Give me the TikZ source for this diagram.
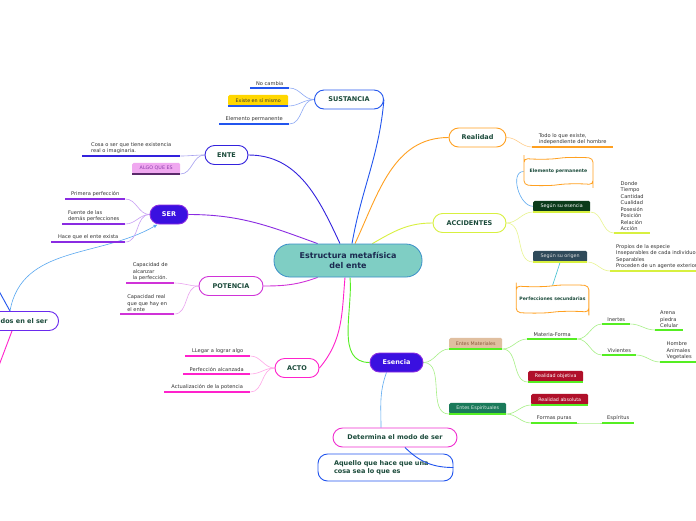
\documentclass[tikz,border=0pt]{standalone}
\usepackage{fontspec}
\setmainfont{DejaVu Sans}
\usepackage{xcolor}
\usepackage{tikz}
\usetikzlibrary{arrows.meta,positioning,calc,shapes.symbols,backgrounds}
\definecolor{cenfill}{HTML}{7FCEC4}
\definecolor{cenline}{HTML}{3A8FC8}
\definecolor{centxt}{HTML}{1B2A50}
\definecolor{brtxt}{HTML}{1A4A3A}
\definecolor{leaftxt}{HTML}{333333}
\definecolor{suscol}{HTML}{2255EE}
\definecolor{suslite}{HTML}{8FAAF5}
\definecolor{entecol}{HTML}{3322DD}
\definecolor{entelite}{HTML}{A6A0F0}
\definecolor{sercol}{HTML}{8A2BE2}
\definecolor{serlite}{HTML}{C9A0F5}
\definecolor{serfill}{HTML}{3A10E0}
\definecolor{potcol}{HTML}{D033D8}
\definecolor{potlite}{HTML}{EAA4F0}
\definecolor{actcol}{HTML}{FF22CC}
\definecolor{actlite}{HTML}{FFA8E8}
\definecolor{realcol}{HTML}{FFA020}
\definecolor{reallite}{HTML}{FFCC88}
\definecolor{acccol}{HTML}{D8F040}
\definecolor{acclite}{HTML}{E8F590}
\definecolor{esccol}{HTML}{55EE22}
\definecolor{esclite}{HTML}{A8F088}
\definecolor{relblue}{HTML}{5AA8F0}
\definecolor{detcol}{HTML}{F02ED0}
\definecolor{dosline}{HTML}{6A2AEE}
\definecolor{yellowtag}{HTML}{FFD700}
\definecolor{pinktag}{HTML}{F0A8F0}
\definecolor{pinktxt}{HTML}{8A3AAA}
\definecolor{pinkline}{HTML}{5A2A6A}
\definecolor{greentag}{HTML}{0B3B1A}
\definecolor{slatetag}{HTML}{2F4A5A}
\definecolor{tantag}{HTML}{E0BFA0}
\definecolor{tantxt}{HTML}{8B5A3C}
\definecolor{redtag}{HTML}{B0102A}
\definecolor{tealtag}{HTML}{1A7A5A}
\definecolor{tealline}{HTML}{40C0D0}

\begin{document}
\begin{tikzpicture}[
    x=1pt, y=1pt,
    >=Latex,
    central/.style={draw=cenline, thick, fill=cenfill, rounded corners=16pt, align=center, minimum width=148pt, minimum height=33pt, font=\fontsize{8}{9.5}\selectfont\bfseries, text=centxt},
    branch/.style={draw=#1, line width=0.9pt, fill=white, rounded corners=9.5pt, minimum height=19pt, align=center, font=\fontsize{6.5}{8}\selectfont\bfseries, text=brtxt},
    solidbr/.style={fill=serfill, draw=#1, line width=0.9pt, rounded corners=9.5pt, minimum height=19pt, font=\fontsize{6.5}{8}\selectfont\bfseries, text=white},
    leafnote/.style={anchor=south west, inner xsep=1pt, inner ysep=2pt, align=left, font=\fontsize{5.1}{6.5}\selectfont, text=leaftxt, append after command={(\tikzlastnode.south west) edge[draw=#1, line width=1.3pt] (\tikzlastnode.south east)}},
    tag/.style 2 args={fill=#1, text=#2, rounded corners=1.5pt, inner ysep=1pt, minimum height=11pt, font=\fontsize{4.8}{5.5}\selectfont},
    tapebox/.style={tape, draw=realcol, line width=0.8pt, fill=white, tape bend height=1.6pt, rounded corners=4pt, minimum width=69pt, minimum height=28pt, font=\fontsize{4.6}{5.5}\selectfont\bfseries, text=brtxt},
    conn/.style={draw=#1, line width=0.6pt},
    trunk/.style={draw=#1, line width=0.9pt}
]
\path[use as bounding box] (0,0) rectangle (696,-520);
\node[central] (cen) at (348,-260.5) {Estructura metafísica\\del ente};
\node[branch=suscol, minimum width=69pt] (sus) at (349,-99.5) {SUSTANCIA};
\node[branch=entecol, minimum width=43pt] (ente) at (226.5,-155) {ENTE};
\node[solidbr=sercol, minimum width=38pt] (ser) at (169,-214.5) {SER};
\node[branch=potcol, minimum width=64pt] (pot) at (231,-286) {POTENCIA};
\node[branch=actcol, minimum width=44pt] (acto) at (297,-368) {ACTO};
\node[branch=realcol, minimum width=57pt] (real) at (477.5,-137.5) {Realidad};
\node[branch=acccol, minimum width=73pt] (acc) at (469.5,-223) {ACCIDENTES};
\node[solidbr=sercol, minimum width=53pt] (esen) at (396.5,-362.5) {Esencia};
\node[branch=detcol, minimum width=124pt] (deter) at (395,-437.5) {Determina el modo de ser};
\node[branch=suscol, minimum height=27pt, text width=103pt, inner xsep=16pt, align=left] (aquel) at (385.5,-467.5) {Aquello que hace que una\\cosa sea lo que es};
\node[branch=dosline, anchor=east, inner xsep=11pt] (dos) at (59,-321) {dos en el ser};
\coordinate (offup) at (-6,-282);
\coordinate (offdn) at (-5,-376);

\node[leafnote=suscol, minimum width=39pt] (nocam) at (250,-88) {No cambia};
\node[leafnote=suscol, tag={yellowtag}{black!80}, minimum width=60pt] (exist) at (228,-106) {Existe en sí mismo};
\node[leafnote=suscol, minimum width=70pt] (elperm) at (219,-124) {Elemento permanente};

\node[leafnote=entecol, minimum width=98pt] (cosa) at (82,-156) {Cosa o ser que tiene existencia\\real o imaginaria.};
\node[leafnote=pinkline, tag={pinktag}{pinktxt}, minimum width=48pt] (algo) at (132,-174) {ALGO QUE ES};

\node[leafnote=sercol, minimum width=60pt] (prim) at (65,-199) {Primera perfección};
\node[leafnote=sercol, minimum width=63pt] (fuente) at (62,-224) {Fuente de las\\demás perfecciones};
\node[leafnote=sercol, minimum width=74pt] (hace) at (51,-242) {Hace que el ente exista};

\node[leafnote=potcol, minimum width=48pt] (capa) at (126,-283) {Capacidad de\\alcanzar\\la perfección.};
\node[leafnote=potcol, minimum width=54pt] (capr) at (120,-314) {Capacidad real\\que que hay en\\el ente};

\node[leafnote=actcol, minimum width=65pt] (lleg) at (185,-356) {LLegar a lograr algo};
\node[leafnote=actcol, minimum width=67pt] (perf) at (183,-374) {Perfección alcanzada};
\node[leafnote=actcol, minimum width=86pt] (actu) at (164,-392) {Actualización de la potencia};

\node[leafnote=realcol, minimum width=81pt] (todo) at (532,-147) {Todo lo que existe,\\independiente del hombre};

\node[leafnote=acccol, tag={greentag}{white}, minimum width=57pt] (segesc) at (533,-212) {Según su esencia};
\node[leafnote=acccol, minimum width=36pt] (cate) at (614,-233) {Donde\\Tiempo\\Cantidad\\Cualidad\\Posesión\\Posición\\Relación\\Acción};
\node[leafnote=acccol, tag={slatetag}{white!88!black}, minimum width=54pt] (segori) at (533,-262) {Según su origen};
\node[leafnote=acccol, inner xsep=6pt] (tipos) at (610,-271) {Propios de la especie\\Inseparables de cada individuo\\Separables\\Proceden de un agente exterior};
\node[tapebox] (elper2) at (558.5,-171.5) {Elemento permanente};
\node[tapebox] (perfsec) at (552.5,-299) {Perfecciones secundarias};

\node[leafnote=esccol, tag={tantag}{tantxt}, minimum width=53pt] (entmat) at (449,-349) {Entes Materiales};
\node[leafnote=esccol, minimum width=50pt] (matfor) at (527,-339) {Materia-Forma};
\node[leafnote=esccol, minimum width=28pt] (inert) at (602,-324) {Inertes};
\node[leafnote=esccol, minimum width=28pt] (arena) at (655,-330) {Arena\\piedra\\Celular};
\node[leafnote=esccol, minimum width=34pt] (vivi) at (602,-355) {Vivientes};
\node[leafnote=esccol, minimum width=38pt] (hombre) at (660,-362) {Hombre\\Animales\\Vegetales};
\node[leafnote=esccol, tag={redtag}{white}, minimum width=55pt] (realobj) at (528,-382) {Realidad objetiva};
\node[leafnote=esccol, tag={tealtag}{white!85!tealtag}, minimum width=57pt] (entesp) at (449,-414) {Entes Espirituales};
\node[leafnote=esccol, tag={redtag}{white}, minimum width=57pt] (realabs) at (531,-405) {Realidad absoluta};
\node[leafnote=esccol, minimum width=46pt] (formas) at (531,-423) {Formas puras};
\node[leafnote=esccol, minimum width=32pt] (espir) at (602,-423) {Espíritus};

\draw[trunk=suscol] ($(deter.south)+(10,0)$) to[out=-45,in=180] (aquel.east);

\begin{scope}[on background layer]
\fill[white] (0,0) rectangle (696,-520);
\draw[trunk=suscol] ($(cen.north)+(4,0)$) to[out=80,in=-95] (sus.east);
\draw[trunk=entecol] ($(cen.north)+(-8,0)$) to[out=115,in=0] (ente.east);
\draw[trunk=sercol] ($(cen.north west)+(44,0)$) to[out=160,in=0] (ser.east);
\draw[trunk=potcol] ($(cen.south west)+(44,0)$) to[out=200,in=0] (pot.east);
\draw[trunk=actcol] ($(cen.south)+(-3,0)$) to[out=-95,in=50] (acto.east);
\draw[trunk=esccol] ($(cen.south)+(2,0)$) to[out=-85,in=180] (esen.west);
\draw[trunk=realcol] ($(cen.north)+(7,0)$) to[out=65,in=180] (real.west);
\draw[trunk=acccol] ($(cen.north east)+(-50,0)$) to[out=30,in=180] (acc.west);
\draw[conn=relblue] ($(esen.south)+(-10,0)$) to[out=-110,in=90] ($(deter.north)+(-14,0)$);
\draw[trunk=suscol] (offup) -- ($(dos.north east)+(-49,0)$);
\draw[trunk=actcol] ($(dos.south east)+(-47,0)$) -- (offdn);
\draw[conn=relblue, -{Latex[length=4pt,width=3.5pt]}] ($(dos.north east)+(-49,0)$) to[out=80,in=-150] ($(ser.south west)+(8,0)$);
\draw[conn=suslite] (nocam.south east) to[out=0,in=180] (sus.west);
\draw[conn=suslite] (exist.south east) to[out=0,in=180] (sus.west);
\draw[conn=suslite] (elperm.south east) to[out=0,in=180] (sus.west);
\draw[conn=entelite] (cosa.south east) to[out=0,in=180] (ente.west);
\draw[conn=entelite] (algo.south east) to[out=0,in=180] (ente.west);
\draw[conn=serlite] (prim.south east) to[out=0,in=180] (ser.west);
\draw[conn=serlite] (fuente.south east) to[out=0,in=180] (ser.west);
\draw[conn=serlite] (hace.south east) to[out=0,in=180] (ser.west);
\draw[conn=potlite] (capa.south east) to[out=0,in=180] (pot.west);
\draw[conn=potlite] (capr.south east) to[out=0,in=180] (pot.west);
\draw[conn=actlite] (lleg.south east) to[out=0,in=180] (acto.west);
\draw[conn=actlite] (perf.south east) to[out=0,in=180] (acto.west);
\draw[conn=actlite] (actu.south east) to[out=0,in=180] (acto.west);
\draw[conn=reallite] (real.east) to[out=0,in=180] (todo.south west);
\draw[conn=acclite] (acc.east) to[out=0,in=180] (segesc.south west);
\draw[conn=acclite] (acc.east) to[out=0,in=180] (segori.south west);
\draw[conn=acclite] (segesc.south east) to[out=0,in=180] (cate.south west);
\draw[conn=acclite] (segori.south east) to[out=0,in=180] (tipos.south west);
\draw[conn=relblue] (elper2.west) to[out=180,in=180] (segesc.west);
\draw[conn=tealline] (segori.south) -- (perfsec.north);
\draw[conn=esclite] (esen.east) to[out=0,in=180] (entmat.south west);
\draw[conn=esclite] (esen.east) to[out=0,in=180] (entesp.south west);
\draw[conn=esclite] (entmat.south east) to[out=0,in=180] (matfor.south west);
\draw[conn=esclite] (entmat.south east) to[out=0,in=180] (realobj.south west);
\draw[conn=esclite] (matfor.south east) to[out=0,in=180] (inert.south west);
\draw[conn=esclite] (matfor.south east) to[out=0,in=180] (vivi.south west);
\draw[conn=esclite] (inert.south east) to[out=0,in=180] (arena.south west);
\draw[conn=esclite] (vivi.south east) to[out=0,in=180] (hombre.south west);
\draw[conn=esclite] (entesp.south east) to[out=0,in=180] (realabs.south west);
\draw[conn=esclite] (entesp.south east) to[out=0,in=180] (formas.south west);
\draw[conn=esclite] (formas.south east) to[out=0,in=180] (espir.south west);
\end{scope}
\end{tikzpicture}
\end{document}
